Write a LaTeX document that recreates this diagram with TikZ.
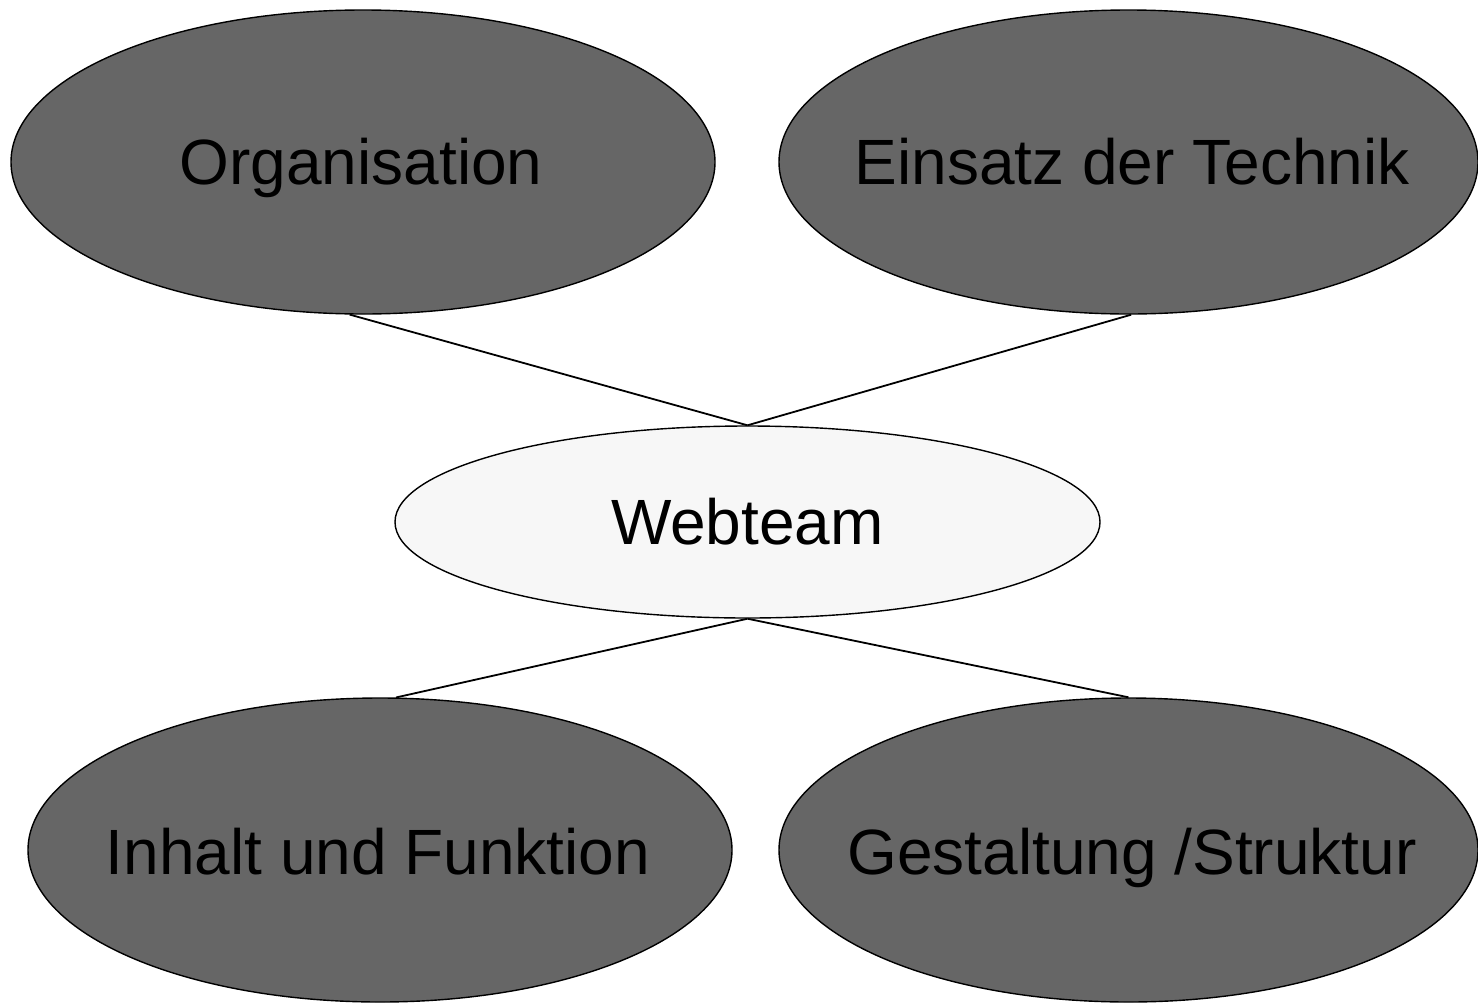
\documentclass[tikz,border=0pt]{standalone}
\usepackage{fontspec}
\setmainfont{Liberation Sans}
\usetikzlibrary{shapes.geometric}
\definecolor{darkfill}{RGB}{102,102,102}
\definecolor{lightfill}{RGB}{247,247,247}
\begin{document}
\begin{tikzpicture}[x=1pt,y=-1pt,
  big/.style={ellipse,draw=black,line width=1.4pt,fill=darkfill,inner sep=0pt,
    minimum width=704pt,minimum height=304pt},
  small/.style={ellipse,draw=black,line width=1.4pt,fill=lightfill,inner sep=0pt,
    minimum width=705pt,minimum height=192pt},
  lbl/.style={font=\fontsize{64}{76}\selectfont,text height=45.8pt,text depth=0pt,inner sep=0pt},
  link/.style={draw=black,line width=1.8pt}]
\useasboundingbox[fill=white] (0,0) rectangle (1478,1002);
\node[big] (org) at (363,162) {};
\node[big,minimum width=699pt] (tech) at (1128.5,162) {};
\node[small] (web) at (747.5,522) {};
\node[big] (inh) at (380,850) {};
\node[big,minimum width=699pt] (ges) at (1128.5,850) {};
\node[lbl] (torg) at (361,162) {Organisation};
\node[lbl] (ttech) at (1132,162) {Einsatz der Technik};
\node[lbl] (tweb) at (web.center) {Webteam};
\node[lbl] (tinh) at (378,852) {Inhalt und Funktion};
\node[lbl] (tges) at (1132,852) {Gestaltung /Struktur};
\draw[link] (org.-95.7) -- (web.north);
\draw[link] (tech.-89.4) -- (web.north);
\draw[link] (web.south) -- (inh.84);
\draw[link] (web.south) -- (ges.north);
\end{tikzpicture}
\end{document}
